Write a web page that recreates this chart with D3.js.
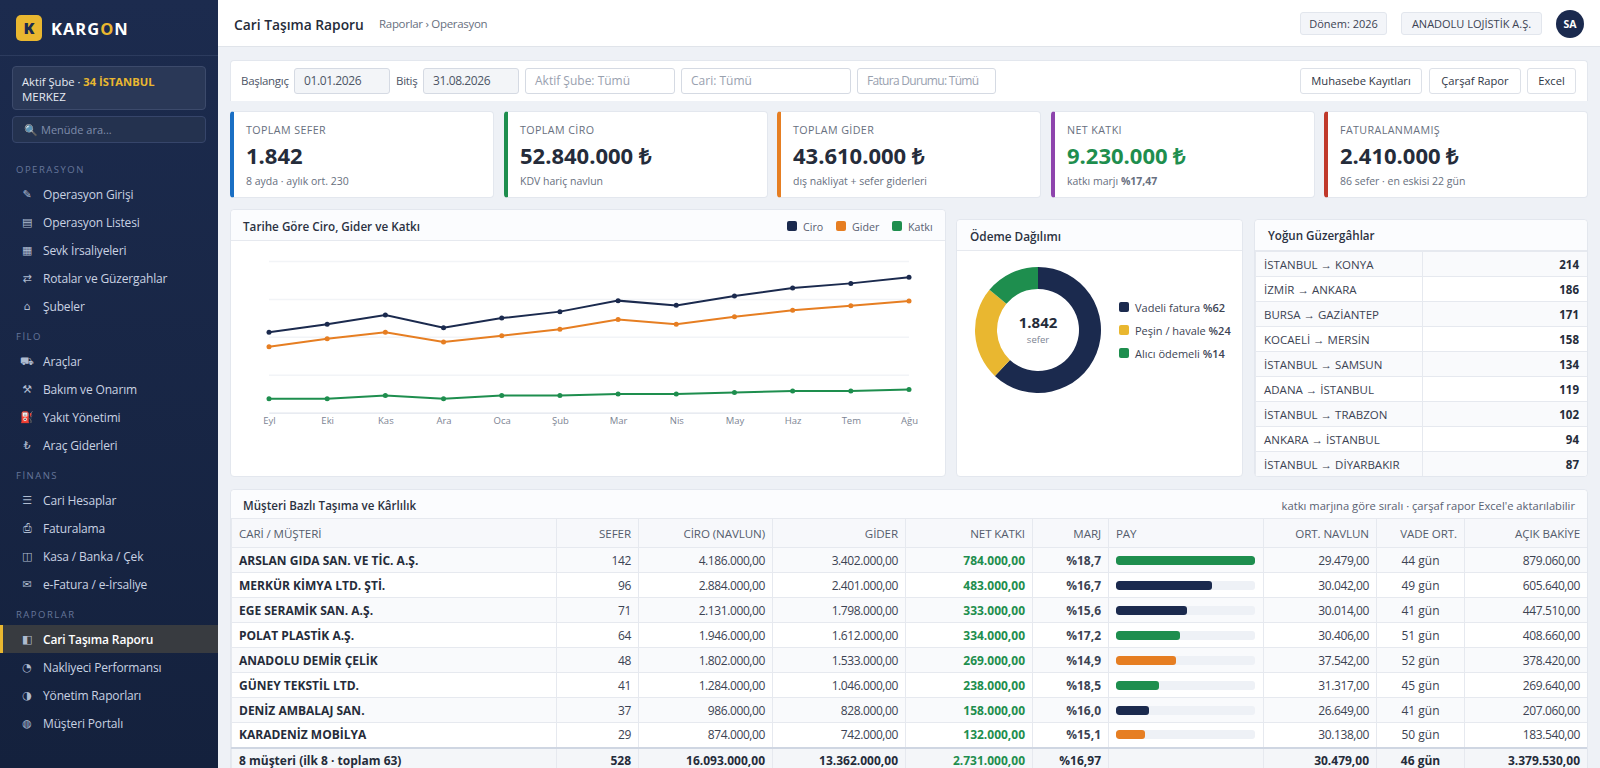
<!DOCTYPE html>
<html lang="tr">
<head>
<meta charset="utf-8">
<title>Cari Taşıma Raporu</title>
<script src="https://cdn.jsdelivr.net/npm/d3@7"></script>
<style>
html, body { margin: 0; padding: 0; width: 1600px; height: 768px; overflow: hidden; background: #eef1f6; }
body { font-family: "Open Sans", sans-serif; color: #252c3a; font-size: 12px; position: relative; }
.abs { position: absolute; box-sizing: border-box; white-space: nowrap; }
.side { left: 0; top: 0; width: 218px; height: 768px; background: linear-gradient(180deg, #1c2b4e, #14213d); }
.navitem { left: 0; width: 218px; height: 28px; line-height: 28px; color: #c9d2e2; font-size: 12px; letter-spacing: -.15px; }
.navitem.g3 { line-height: 30px; }
.navitem .ic { position: absolute; left: 20px; width: 14px; text-align: center; font-size: 11px; color: #aebbd0; font-family: "DejaVu Sans"; }
.navitem .tx { position: absolute; left: 43px; }
.navitem.on { background: #383b40; color: #fff; font-weight: 600; border-left: 3px solid #e9b730; }
.navitem.on .ic { left: 17px; }
.navitem.on .tx { left: 40px; }
.navhead { left: 16px; font-size: 9.5px; letter-spacing: 1.5px; color: #66769a; line-height: 12px; }
.panel { background: #fff; border: 1px solid #e3e7ee; border-radius: 4px; }
.phead { background: #fbfcfe; border-bottom: 1px solid #e6e9ef; left: 0; right: 0; top: 0; border-radius: 4px 4px 0 0; }
.field { border: 1px solid #d5dae3; border-radius: 3px; background: #fff; font-size: 12px; line-height: 24px; padding-left: 9px; color: #99a1af; height: 26px; top: 68px; }
.field.date { background: #f3f5f8; color: #4d5566; letter-spacing: -.4px; }
.field.tight { letter-spacing: -.7px; }
.btn { border: 1px solid #dde1e8; border-radius: 3px; background: #fff; font-size: 11.2px; line-height: 24px; text-align: center; color: #2f3646; height: 26px; top: 68px; }
.badge { top: 12px; height: 23px; line-height: 21px; background: #f3f5f9; border: 1px solid #e2e6ed; border-radius: 3px; text-align: center; font-size: 11px; color: #3c4353; }
.kpi { top: 111px; height: 87px; background: #fff; border: 1px solid #e3e7ee; border-left-width: 4px; border-radius: 4px; }
.kpi .lb { position: absolute; left: 12px; top: 11px; font-size: 10.7px; letter-spacing: .4px; color: #687080; line-height: 14px; }
.kpi .vl { position: absolute; left: 12px; top: 27px; font-size: 22px; font-weight: 700; line-height: 32px; color: #252c3a; }
.kpi .sb { position: absolute; left: 12px; top: 62px; font-size: 10.5px; color: #687080; line-height: 14px; }
table { border-collapse: collapse; table-layout: fixed; font-size: 12px; }
.tbl { width: 1357px; }
.tbl th, .tbl td { border: 1px solid #e6e9ef; padding: 0 7px; overflow: hidden; white-space: nowrap; box-sizing: border-box; }
.tbl th { height: 29px; background: #f7f8fb; font-size: 11.6px; font-weight: 500; color: #555d6d; text-align: right; letter-spacing: -.1px; }
.tbl td { height: 25px; text-align: right; color: #3c4353; letter-spacing: -.4px; }
.tbl tbody tr:nth-child(odd) td { background: #f9fafc; }
.tbl th.l, .tbl td.l { text-align: left; }
.tbl td.c { text-align: center; letter-spacing: 0; }
.tbl td.name { font-weight: 700; color: #252c3a; letter-spacing: 0; }
.tbl td.net { font-weight: 700; color: #1e8e4e; letter-spacing: 0; }
.tbl td.mrj { font-weight: 700; letter-spacing: 0; }
.tbl tfoot td { background: #f4f6f9; border-top: 2px solid #cfd6e2; font-weight: 700; color: #252c3a; letter-spacing: 0; }
.tbl tfoot td.net { color: #1e8e4e; }
.track { height: 9px; border-radius: 3px; background: #eef1f6; width: 139px; overflow: hidden; }
.fill { height: 9px; border-radius: 3px; }
.rt { font-size: 11.5px; width: 332px; }
.rt td { border: 1px solid #e6e9ef; height: 25px; padding: 0 8px; box-sizing: border-box; color: #3c4353; }
.rt tr:nth-child(even) td { background: #f9fafc; }
.rt td.n { text-align: right; font-weight: 700; color: #252c3a; }
.sw { width: 10px; height: 10px; border-radius: 2px; }
</style>
</head>
<body>
<script>
// sidebar
var navSections = ["OPERASYON", "FİLO", "FİNANS", "RAPORLAR"];
var navHeadY = [164, 331, 470, 609];
var navStartY = [181, 348, 487, 625];
var navLabels = [
  ["Operasyon Girişi", "Operasyon Listesi", "Sevk İrsaliyeleri", "Rotalar ve Güzergahlar", "Şubeler"],
  ["Araçlar", "Bakım ve Onarım", "Yakıt Yönetimi", "Araç Giderleri"],
  ["Cari Hesaplar", "Faturalama", "Kasa / Banka / Çek", "e-Fatura / e-İrsaliye"],
  ["Cari Taşıma Raporu", "Nakliyeci Performansı", "Yönetim Raporları", "Müşteri Portalı"]
];
var navIcons = [
  ["✎", "▤", "▦", "⇄", "⌂"],
  ["⛟", "⚒", "⛽", "₺"],
  ["☰", "⎙", "◫", "✉"],
  ["◧", "◔", "◑", "◍"]
];

// filter bar
var filterLabels = ["Başlangıç", "Bitiş"];
var filterDates = ["01.01.2026", "31.08.2026"];
var filterSelects = ["Aktif Şube: Tümü", "Cari: Tümü", "Fatura Durumu: Tümü"];
var actionButtons = ["Muhasebe Kayıtları", "Çarşaf Rapor", "Excel"];

// kpi cards
var kpiLabels = ["TOPLAM SEFER", "TOPLAM CİRO", "TOPLAM GİDER", "NET KATKI", "FATURALANMAMIŞ"];
var kpiValues = ["1.842", "52.840.000 ₺", "43.610.000 ₺", "9.230.000 ₺", "2.410.000 ₺"];
var kpiNotes = ["8 ayda · aylık ort. 230", "KDV hariç navlun", "dış nakliyat + sefer giderleri", "katkı marjı <b>%17,47</b>", "86 sefer · en eskisi 22 gün"];
var kpiColors = ["#1a6fc4", "#1e8e4e", "#e67e22", "#8e44ad", "#c0392b"];

// line chart, million TL
var months = ["Eyl", "Eki", "Kas", "Ara", "Oca", "Şub", "Mar", "Nis", "May", "Haz", "Tem", "Ağu"];
var ciro = [4.24, 4.66, 5.15, 4.48, 4.99, 5.33, 5.91, 5.66, 6.15, 6.58, 6.82, 7.14];
var gider = [3.48, 3.90, 4.24, 3.73, 4.06, 4.40, 4.91, 4.66, 5.06, 5.40, 5.64, 5.89];
var katki = [0.74, 0.74, 0.91, 0.74, 0.91, 0.91, 0.98, 0.98, 1.07, 1.14, 1.14, 1.23];
var yTicks = [0, 2, 4, 6, 8];

// donut
var payLabels = ["Vadeli fatura", "Peşin / havale", "Alıcı ödemeli"];
var payValues = [62, 24, 14];
var payColors = ["#1b2a4e", "#e9b730", "#1e8e4e"];

// routes
var routeNames = ["İSTANBUL → KONYA", "İZMİR → ANKARA", "BURSA → GAZİANTEP", "KOCAELİ → MERSİN", "İSTANBUL → SAMSUN", "ADANA → İSTANBUL", "İSTANBUL → TRABZON", "ANKARA → İSTANBUL", "İSTANBUL → DİYARBAKIR"];
var routeTrips = [214, 186, 171, 158, 134, 119, 102, 94, 87];

// customer table
var tableHeads = ["CARİ / MÜŞTERİ", "SEFER", "CİRO (NAVLUN)", "GİDER", "NET KATKI", "MARJ", "PAY", "ORT. NAVLUN", "VADE ORT.", "AÇIK BAKİYE"];
var colWidths = [325, 82, 134, 133, 127, 76, 155, 113, 88, 123];
var customers = ["ARSLAN GIDA SAN. VE TİC. A.Ş.", "MERKÜR KİMYA LTD. ŞTİ.", "EGE SERAMİK SAN. A.Ş.", "POLAT PLASTİK A.Ş.", "ANADOLU DEMİR ÇELİK", "GÜNEY TEKSTİL LTD.", "DENİZ AMBALAJ SAN.", "KARADENİZ MOBİLYA"];
var trips = [142, 96, 71, 64, 48, 41, 37, 29];
var revenue = ["4.186.000,00", "2.884.000,00", "2.131.000,00", "1.946.000,00", "1.802.000,00", "1.284.000,00", "986.000,00", "874.000,00"];
var costs = ["3.402.000,00", "2.401.000,00", "1.798.000,00", "1.612.000,00", "1.533.000,00", "1.046.000,00", "828.000,00", "742.000,00"];
var netValues = ["784.000,00", "483.000,00", "333.000,00", "334.000,00", "269.000,00", "238.000,00", "158.000,00", "132.000,00"];
var margins = ["%18,7", "%16,7", "%15,6", "%17,2", "%14,9", "%18,5", "%16,0", "%15,1"];
var shares = [100, 69, 51, 46, 43, 31, 24, 21];
var shareColors = ["#1e8e4e", "#1b2a4e", "#1b2a4e", "#1e8e4e", "#e67e22", "#1e8e4e", "#1b2a4e", "#e67e22"];
var avgFreight = ["29.479,00", "30.042,00", "30.014,00", "30.406,00", "37.542,00", "31.317,00", "26.649,00", "30.138,00"];
var terms = ["44 gün", "49 gün", "41 gün", "51 gün", "52 gün", "45 gün", "41 gün", "50 gün"];
var balances = ["879.060,00", "605.640,00", "447.510,00", "408.660,00", "378.420,00", "269.640,00", "207.060,00", "183.540,00"];
var totals = ["8 müşteri (ilk 8 · toplam 63)", "528", "16.093.000,00", "13.362.000,00", "2.731.000,00", "%16,97", "", "30.479,00", "46 gün", "3.379.530,00"];

var body = d3.select("body");

function box(parent, cls, x, y, w, h) {
  var el = parent.append("div").attr("class", "abs " + cls);
  if (x != null) el.style("left", x + "px");
  if (y != null) el.style("top", y + "px");
  if (w != null) el.style("width", w + "px");
  if (h != null) el.style("height", h + "px");
  return el;
}

function label(parent, txt, x, cy, size, color, weight) {
  return parent.append("div").attr("class", "abs").text(txt)
    .style("left", x + "px").style("top", (cy - 10) + "px")
    .style("line-height", "20px").style("font-size", size + "px")
    .style("color", color).style("font-weight", weight || 400);
}

// --- sidebar ---
var side = box(body, "side");
box(side, "", 0, 55, 218, 1).style("background", "#2c3b5e");
box(side, "", 16, 15, 26, 26).style("background", "#e9b730").style("border-radius", "5px")
  .style("text-align", "center").style("line-height", "26px").style("font-weight", 800)
  .style("font-size", "16px").style("color", "#1b2a4e").text("K");
var logo = label(side, "", 51, 29, 16.5, "#fff", 700).style("letter-spacing", "1px");
logo.append("span").text("KARG");
logo.append("span").text("O").style("color", "#e9b730");
logo.append("span").text("N");

var branch = box(side, "", 12, 66, 194, 44).style("background", "#2a3857").style("border", "1px solid #3c4a6b")
  .style("border-radius", "4px");
label(branch, "Aktif Şube · ", 9, 14.5, 11.2, "#e6eaf2").append("span").text("34 İSTANBUL").style("color", "#e9b730").style("font-weight", 700);
label(branch, "MERKEZ", 9, 29.5, 11.5, "#e6eaf2");
var search = box(side, "", 12, 116, 194, 27).style("background", "#24324f").style("border", "1px solid #36456a")
  .style("border-radius", "4px");
label(search, "🔍", 11, 12.5, 11, "#aebbd0");
label(search, "Menüde ara...", 28, 12.5, 11, "#7f8dab");

navSections.forEach(function (name, g) {
  box(side, "navhead", null, navHeadY[g]).text(name);
  side.selectAll(".g" + g).data(navLabels[g]).enter().append("div")
    .attr("class", function (d) { return "abs navitem g" + g + (d == "Cari Taşıma Raporu" ? " on" : ""); })
    .style("top", function (d, i) { return (navStartY[g] + i * 28) + "px"; })
    .each(function (d, i) {
      var item = d3.select(this);
      item.append("span").attr("class", "ic").text(navIcons[g][i]);
      item.append("span").attr("class", "tx").text(d);
    });
});

// --- top bar ---
box(body, "", 218, 0, 1382, 47).style("background", "#fff").style("border-bottom", "1px solid #e0e4ea");
label(body, "Cari Taşıma Raporu", 234, 25, 13.8, "#252c3a", 600);
label(body, "Raporlar › Operasyon", 379, 24, 11.5, "#687080").style("letter-spacing", "-.3px");
box(body, "badge", 1300, null, 87).text("Dönem: 2026");
box(body, "badge", 1401, null, 141).text("ANADOLU LOJİSTİK A.Ş.");
box(body, "", 1556, 10, 28, 28).style("background", "#1b2a4e").style("border-radius", "50%").style("color", "#fff")
  .style("text-align", "center").style("line-height", "28px").style("font-weight", 700).style("font-size", "10.5px").text("SA");

// --- filters ---
box(body, "", 230, 60, 1358, 41).style("background", "#fff").style("border", "1px solid #e3e7ee").style("border-bottom", "none")
  .style("border-radius", "4px 4px 0 0");
label(body, filterLabels[0], 241, 81, 11.5, "#4d5566").style("letter-spacing", "-.3px");
label(body, filterLabels[1], 396, 81, 11.5, "#4d5566").style("letter-spacing", "-.3px");
box(body, "field date", 294, null, 96).text(filterDates[0]);
box(body, "field date", 423, null, 96).text(filterDates[1]);
box(body, "field", 525, null, 150).text(filterSelects[0]);
box(body, "field", 681, null, 170).text(filterSelects[1]);
box(body, "field tight", 857, null, 139).text(filterSelects[2]);
box(body, "btn", 1300, null, 122).text(actionButtons[0]);
box(body, "btn", 1429, null, 92).text(actionButtons[1]);
box(body, "btn", 1527, null, 49).text(actionButtons[2]);

// --- kpi cards ---
var kpiX = [230, 504, 777, 1051, 1324];
kpiLabels.forEach(function (name, i) {
  var card = box(body, "kpi", kpiX[i], null, 263.5).style("border-left-color", kpiColors[i]);
  card.append("div").attr("class", "lb").text(name);
  card.append("div").attr("class", "vl").text(kpiValues[i]).style("color", i == 3 ? "#1e8e4e" : null);
  card.append("div").attr("class", "sb").html(kpiNotes[i]);
});

// --- line chart ---
var chartPanel = box(body, "panel", 230, 209, 716, 268);
box(chartPanel, "phead", null, null, null, 31);
label(chartPanel, "Tarihe Göre Ciro, Gider ve Katkı", 12, 15.5, 11.7, "#2b3242", 600);
var legendNames = ["Ciro", "Gider", "Katkı"];
var legendColors = ["#1b2a4e", "#e67e22", "#1e8e4e"];
var legendX = [556, 605, 661];
legendNames.forEach(function (name, i) {
  box(chartPanel, "sw", legendX[i], 11).style("background", legendColors[i]);
  label(chartPanel, name, legendX[i] + 16, 16.5, 10.7, "#596172");
});

var svg = body.append("svg").attr("class", "abs").attr("width", 715).attr("height", 236)
  .style("left", "231px").style("top", "241px");
var x = d3.scalePoint().domain(months).range([38, 678]);
var y = d3.scaleLinear().domain([0, 8]).range([171.7, 20]);

svg.append("g").attr("transform", "translate(38,0)")
  .call(d3.axisLeft(y).tickValues(yTicks).tickSize(-640).tickFormat(""))
  .call(function (g) {
    g.select(".domain").remove();
    g.selectAll("line").attr("stroke", "#f2f4f7").attr("stroke-width", 1.5);
  });
svg.append("g").attr("transform", "translate(0," + y(0) + ")")
  .call(d3.axisBottom(x).tickSize(0).tickPadding(5))
  .call(function (g) {
    g.select(".domain").attr("stroke", "#e8ebf1").attr("stroke-width", 1.5);
    g.selectAll("text").attr("fill", "#7c8493").style("font-size", "9.5px").style("font-family", '"Open Sans"');
  });

var line = d3.line().x(function (d, i) { return x(months[i]); }).y(function (d) { return y(d); });
[ciro, gider, katki].forEach(function (series, s) {
  svg.append("path").datum(series).attr("d", line).attr("fill", "none")
    .attr("stroke", legendColors[s]).attr("stroke-width", 2);
  svg.selectAll(".dot" + s).data(series).enter().append("circle").attr("class", "dot" + s)
    .attr("cx", function (d, i) { return x(months[i]); })
    .attr("cy", function (d) { return y(d); })
    .attr("r", 2.5).attr("fill", legendColors[s]);
});

// --- donut ---
var donutPanel = box(body, "panel", 956, 219, 287, 258);
box(donutPanel, "phead", null, null, null, 31);
label(donutPanel, "Ödeme Dağılımı", 13, 15.5, 11.8, "#2b3242", 600);
var donut = body.append("svg").attr("class", "abs").attr("width", 130).attr("height", 130)
  .style("left", "973px").style("top", "265px").append("g").attr("transform", "translate(65,65)");
var arc = d3.arc().innerRadius(41).outerRadius(63);
donut.selectAll("path").data(d3.pie().sort(null)(payValues)).enter().append("path")
  .attr("d", arc).attr("fill", function (d, i) { return payColors[i]; });
donut.append("text").attr("text-anchor", "middle").attr("y", -2).text("1.842")
  .style("font-size", "15px").style("font-weight", 700).attr("fill", "#252c3a");
donut.append("text").attr("text-anchor", "middle").attr("y", 13).text("sefer")
  .style("font-size", "9.5px").attr("fill", "#7c8493");
payLabels.forEach(function (name, i) {
  box(body, "sw", 1119, 302 + i * 23).style("background", payColors[i]);
  label(body, name + " ", 1135, 307.5 + i * 23, 11, "#3c4353").append("b").text("%" + payValues[i]).style("font-weight", 600);
});

// --- routes ---
var routePanel = box(body, "panel", 1254, 219, 334, 258).style("overflow", "hidden");
box(routePanel, "phead", null, null, null, 31);
label(routePanel, "Yoğun Güzergâhlar", 13, 15.5, 11.6, "#2b3242", 600);
var routeTable = routePanel.append("table").attr("class", "abs rt").style("left", "0px").style("top", "31px");
routeTable.append("colgroup").selectAll("col").data([167, 165]).enter().append("col")
  .style("width", function (d) { return d + "px"; });
var routeRows = routeTable.selectAll("tr").data(routeNames).enter().append("tr");
routeRows.append("td").text(function (d) { return d; });
routeRows.append("td").attr("class", "n").text(function (d, i) { return routeTrips[i]; });

// --- customer table ---
var tablePanel = box(body, "panel", 230, 489, 1358, 290).style("overflow", "hidden");
box(tablePanel, "phead", null, null, null, 30);
label(tablePanel, "Müşteri Bazlı Taşıma ve Kârlılık", 12, 15.5, 11.6, "#2b3242", 600);
label(tablePanel, "katkı marjına göre sıralı · çarşaf rapor Excel'e aktarılabilir", null, 15.5, 11.2, "#596172", 500)
  .style("left", null).style("right", "12px");

var tbl = tablePanel.append("table").attr("class", "abs tbl").style("left", "0px").style("top", "28px");
tbl.append("colgroup").selectAll("col").data(colWidths).enter().append("col")
  .style("width", function (d) { return d + "px"; });
tbl.append("thead").append("tr").selectAll("th").data(tableHeads).enter().append("th")
  .attr("class", function (d, i) { return i == 0 || i == 6 ? "l" : ""; })
  .text(function (d) { return d; });

var rows = tbl.append("tbody").selectAll("tr").data(customers).enter().append("tr");
var shareX = d3.scaleLinear().domain([0, 100]).range([0, 139]);
rows.append("td").attr("class", "l name").text(function (d) { return d; });
rows.append("td").text(function (d, i) { return trips[i]; });
rows.append("td").text(function (d, i) { return revenue[i]; });
rows.append("td").text(function (d, i) { return costs[i]; });
rows.append("td").attr("class", "net").text(function (d, i) { return netValues[i]; });
rows.append("td").attr("class", "mrj").text(function (d, i) { return margins[i]; });
rows.append("td").attr("class", "l").append("div").attr("class", "track").append("div").attr("class", "fill")
  .style("width", function (d, i) { return shareX(shares[i]) + "px"; })
  .style("background", function (d, i) { return shareColors[i]; });
rows.append("td").text(function (d, i) { return avgFreight[i]; });
rows.append("td").attr("class", "c").text(function (d, i) { return terms[i]; });
rows.append("td").text(function (d, i) { return balances[i]; });

tbl.append("tfoot").append("tr").selectAll("td").data(totals).enter().append("td")
  .attr("class", function (d, i) { return i == 0 ? "l" : i == 8 ? "c" : i == 4 ? "net" : ""; })
  .text(function (d) { return d; });
</script>
</body>
</html>
